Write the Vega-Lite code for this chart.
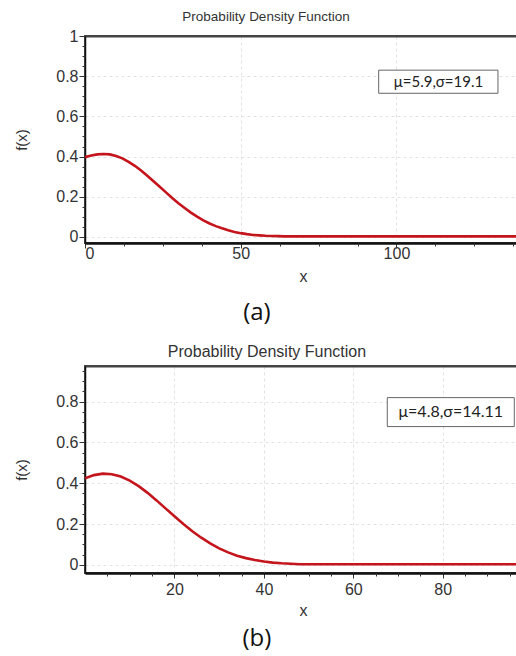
{
  "$schema": "https://vega.github.io/schema/vega-lite/v6.json",
  "padding": {"left": 13, "top": 8, "right": 0, "bottom": 0},
  "background": "white",
  "config": {
    "font": "Liberation Sans",
    "view": {"stroke": "#444", "strokeWidth": 2},
    "axis": {"labelFont": "Liberation Sans", "titleFont": "Liberation Sans", "labelColor": "#333", "titleColor": "#333", "titleFontWeight": "normal", "tickColor": "#333", "domainColor": "#111"},
    "title": {"font": "Liberation Sans", "fontWeight": "normal", "color": "#333"}
  },
  "datasets": {
    "a": [
      {"x": 0, "f": 0.397}, {"x": 2, "f": 0.405}, {"x": 4, "f": 0.411}, {"x": 6, "f": 0.413}, {"x": 8, "f": 0.411},
      {"x": 10, "f": 0.403}, {"x": 12, "f": 0.391}, {"x": 14, "f": 0.374}, {"x": 16, "f": 0.354}, {"x": 18, "f": 0.331},
      {"x": 20, "f": 0.305}, {"x": 22, "f": 0.277}, {"x": 24, "f": 0.25}, {"x": 26, "f": 0.222}, {"x": 28, "f": 0.194},
      {"x": 30, "f": 0.168}, {"x": 32, "f": 0.144}, {"x": 34, "f": 0.121}, {"x": 36, "f": 0.101}, {"x": 38, "f": 0.083},
      {"x": 40, "f": 0.067}, {"x": 42, "f": 0.054}, {"x": 44, "f": 0.043}, {"x": 46, "f": 0.033}, {"x": 48, "f": 0.025},
      {"x": 50, "f": 0.019}, {"x": 52, "f": 0.014}, {"x": 54, "f": 0.01}, {"x": 56, "f": 0.008}, {"x": 58, "f": 0.006},
      {"x": 60, "f": 0.005}, {"x": 62, "f": 0.004}, {"x": 64, "f": 0.003}, {"x": 140, "f": 0.003}
    ],
    "b": [
      {"x": 0, "f": 0.424}, {"x": 2, "f": 0.44}, {"x": 4, "f": 0.447}, {"x": 6, "f": 0.444}, {"x": 8, "f": 0.433},
      {"x": 10, "f": 0.413}, {"x": 12, "f": 0.386}, {"x": 14, "f": 0.353}, {"x": 16, "f": 0.316}, {"x": 18, "f": 0.277},
      {"x": 20, "f": 0.238}, {"x": 22, "f": 0.2}, {"x": 24, "f": 0.165}, {"x": 26, "f": 0.133}, {"x": 28, "f": 0.105},
      {"x": 30, "f": 0.081}, {"x": 32, "f": 0.061}, {"x": 34, "f": 0.045}, {"x": 36, "f": 0.033}, {"x": 38, "f": 0.024},
      {"x": 40, "f": 0.016}, {"x": 42, "f": 0.011}, {"x": 44, "f": 0.0075}, {"x": 46, "f": 0.005}, {"x": 48, "f": 0.003},
      {"x": 97.5, "f": 0.003}
    ],
    "la": [{"label": "μ=5.9,σ=19.1"}],
    "lb": [{"label": "μ=4.8,σ=14.11"}]
  },
  "spacing": 18,
  "vconcat": [
    {
      "title": {"text": "(a)", "orient": "bottom", "anchor": "middle", "font": "Open Sans", "fontSize": 24, "color": "#111", "offset": 16, "dx": -11},
      "vconcat": [
        {
          "title": {"text": "Probability Density Function", "anchor": "middle", "fontSize": 13.5, "offset": 5, "dx": -37},
          "width": 436,
          "height": 207,
          "layer": [
            {
              "data": {"name": "a"},
              "mark": {"type": "line", "color": "#c4141c", "strokeWidth": 2.6, "clip": true},
              "encoding": {
                "x": {"field": "x", "type": "quantitative", "scale": {"domain": [0, 140], "nice": false},
                  "axis": {"orient": "bottom", "values": [0, 50, 100], "title": "x", "labelFontSize": 16, "titleFontSize": 16, "tickSize": 5, "labelPadding": -3, "titlePadding": 7, "domainWidth": 2.5, "grid": true, "gridDash": [3, 3], "gridColor": "#e2e2e2"}},
                "y": {"field": "f", "type": "quantitative", "scale": {"domain": [-0.03, 1], "nice": false, "zero": false},
                  "axis": {"orient": "left", "values": [0, 0.2, 0.4, 0.6, 0.8, 1], "format": "~g", "title": "f(x)", "labelFontSize": 16, "titleFontSize": 15, "tickSize": 6, "labelPadding": 1, "titlePadding": 26, "domainWidth": 1.5, "grid": true, "gridDash": [3, 3], "gridColor": "#e2e2e2"}}
              }
            },
            {
              "data": {"name": "la"},
              "mark": {"type": "rect", "fill": "white", "stroke": "#666", "strokeWidth": 1},
              "encoding": {
                "x": {"datum": 94.3, "type": "quantitative", "scale": {"domain": [0, 140], "nice": false},
                  "axis": {"orient": "bottom", "values": [12.5, 25, 37.5, 62.5, 75, 87.5, 112.5, 125, 137.5], "labels": false, "domain": false, "grid": false, "tickSize": 3, "title": null}},
                "x2": {"datum": 132.6},
                "y": {"datum": 0.83, "type": "quantitative", "scale": {"domain": [-0.03, 1], "nice": false, "zero": false},
                  "axis": {"orient": "left", "values": [0.05, 0.1, 0.15, 0.25, 0.3, 0.35, 0.45, 0.5, 0.55, 0.65, 0.7, 0.75, 0.85, 0.9, 0.95], "labels": false, "domain": false, "grid": false, "tickSize": 3, "title": null}},
                "y2": {"datum": 0.715}
              }
            },
            {
              "data": {"name": "la"},
              "mark": {"type": "text", "font": "Lato", "fontSize": 15, "color": "#222"},
              "encoding": {
                "x": {"datum": 113.5, "type": "quantitative",
                  "axis": {"orient": "top", "labels": false, "ticks": false, "grid": false, "title": null, "domainColor": "#444", "domainWidth": 2}},
                "y": {"datum": 0.77, "type": "quantitative", "axis": null},
                "text": {"field": "label"}
              }
            }
          ],
          "resolve": {"axis": {"x": "independent", "y": "independent"}}
        }
      ]
    },
    {
      "title": {"text": "(b)", "orient": "bottom", "anchor": "middle", "font": "Open Sans", "fontSize": 24, "color": "#111", "offset": 8, "dx": -11},
      "vconcat": [
        {
          "title": {"text": "Probability Density Function", "anchor": "middle", "fontSize": 16, "offset": 6, "dx": -36},
          "width": 436,
          "height": 207,
          "layer": [
            {
              "data": {"name": "b"},
              "mark": {"type": "line", "color": "#c4141c", "strokeWidth": 2.6, "clip": true},
              "encoding": {
                "x": {"field": "x", "type": "quantitative", "scale": {"domain": [0, 97.5], "nice": false},
                  "axis": {"orient": "bottom", "values": [20, 40, 60, 80], "title": "x", "labelFontSize": 16, "titleFontSize": 16, "tickSize": 5, "labelPadding": 3, "titlePadding": 5, "domainWidth": 2.5, "grid": true, "gridDash": [3, 3], "gridColor": "#e2e2e2"}},
                "y": {"field": "f", "type": "quantitative", "scale": {"domain": [-0.04, 0.975], "nice": false, "zero": false},
                  "axis": {"orient": "left", "values": [0, 0.2, 0.4, 0.6, 0.8], "format": "~g", "title": "f(x)", "labelFontSize": 16, "titleFontSize": 15, "tickSize": 6, "labelPadding": 1, "titlePadding": 26, "domainWidth": 1.5, "grid": true, "gridDash": [3, 3], "gridColor": "#e2e2e2"}}
              }
            },
            {
              "data": {"name": "lb"},
              "mark": {"type": "rect", "fill": "white", "stroke": "#666", "strokeWidth": 1},
              "encoding": {
                "x": {"datum": 67.6, "type": "quantitative", "scale": {"domain": [0, 97.5], "nice": false},
                  "axis": {"orient": "bottom", "values": [5, 10, 15, 25, 30, 35, 45, 50, 55, 65, 70, 75, 85, 90, 95], "labels": false, "domain": false, "grid": false, "tickSize": 3, "title": null}},
                "x2": {"datum": 96},
                "y": {"datum": 0.82, "type": "quantitative", "scale": {"domain": [-0.04, 0.975], "nice": false, "zero": false},
                  "axis": {"orient": "left", "values": [0.05, 0.1, 0.15, 0.25, 0.3, 0.35, 0.45, 0.5, 0.55, 0.65, 0.7, 0.75, 0.85, 0.9, 0.95], "labels": false, "domain": false, "grid": false, "tickSize": 3, "title": null}},
                "y2": {"datum": 0.678}
              }
            },
            {
              "data": {"name": "lb"},
              "mark": {"type": "text", "font": "Lato", "fontSize": 16, "color": "#222"},
              "encoding": {
                "x": {"datum": 81.8, "type": "quantitative",
                  "axis": {"orient": "top", "labels": false, "ticks": false, "grid": false, "title": null, "domainColor": "#444", "domainWidth": 2}},
                "y": {"datum": 0.749, "type": "quantitative", "axis": null},
                "text": {"field": "label"}
              }
            }
          ],
          "resolve": {"axis": {"x": "independent", "y": "independent"}}
        }
      ]
    }
  ]
}
